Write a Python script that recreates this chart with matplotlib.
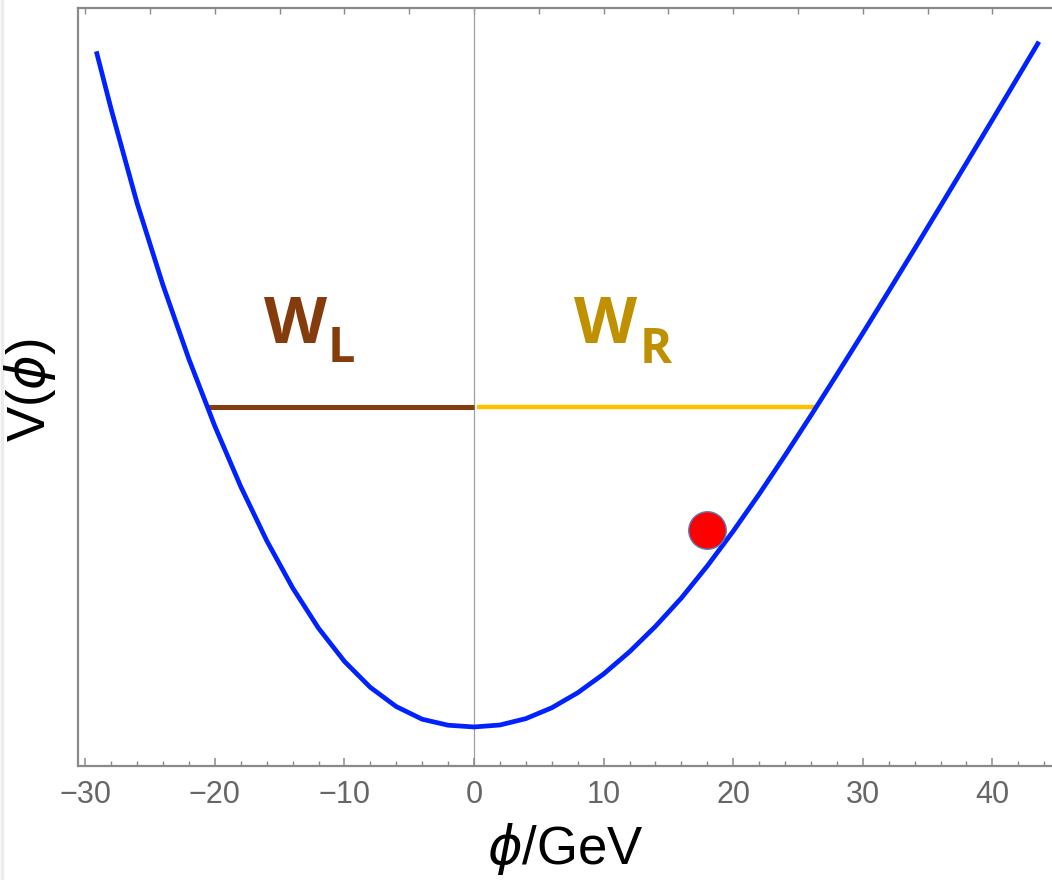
import matplotlib.pyplot as plt
from matplotlib.lines import Line2D

# potential curve, sampled points (phi in GeV, V in arbitrary units)
phi = [-29.1, -28, -26, -24, -22, -20, -18, -16, -14, -12, -10, -8, -6, -4, -2, 0,
       2, 4, 6, 8, 10, 12, 14, 16, 18, 20, 22, 24, 26, 28, 30, 32, 34, 36, 38,
       40, 42, 43.5]
V = [93.98, 86.65, 74.25, 63.43, 53.67, 44.83, 36.86, 29.74, 23.51, 18.18,
     13.80, 10.37, 7.84, 6.17, 5.38, 5.15,
     5.41, 6.25, 7.68, 9.66, 12.14, 15.07, 18.42, 22.16, 26.39, 30.98, 35.86,
     40.98, 46.25, 51.64, 57.10, 62.64, 68.23, 73.88, 79.55, 85.25, 90.98, 95.29]

# widths of the well at the level V_w
V_w = 47.36
wL = (-20.57, 0.0)
wR = (0.25, 26.41)

# ball position
ball = (18.0, 31.1)

brown = '#843C0C'
gold_text = '#BF9000'
gold_line = '#FFC000'
frame = '#8a8a8a'

fig = plt.figure(figsize=(10.52, 8.8), dpi=100)
ax = fig.add_axes([78 / 1052, 114 / 880, 1 - 78 / 1052, 758 / 880])

ax.axvline(0, color='#a0a0a0', lw=0.9, zorder=1)
ax.plot(wL, [V_w, V_w], color=brown, lw=3.6, solid_capstyle='butt', zorder=2)
ax.plot(wR, [V_w, V_w], color=gold_line, lw=3.2, solid_capstyle='butt', zorder=2)
ax.plot(phi, V, color='#0022ff', lw=3.4, solid_joinstyle='round', zorder=3)
ax.plot(*ball, 'o', ms=27, mfc='#ff0000', mec='#5b7bbf', mew=1.0, zorder=4)

# W_L and W_R labels
txt = dict(family='Open Sans', weight='bold', va='baseline', ha='left')
ax.text(-16.2, 55.8, 'W', color=brown, fontsize=47, **txt)
ax.text(-11.3, 53.3, 'L', color=brown, fontsize=35, **txt)
ax.text(7.7, 55.8, 'W', color=gold_text, fontsize=47, **txt)
ax.text(12.8, 53.2, 'R', color=gold_text, fontsize=35, **txt)

ax.set_xlim(-30.56, 44.6)
ax.set_ylim(0, 100)

for side in ['left', 'bottom', 'top']:
    ax.spines[side].set_color(frame)
    ax.spines[side].set_linewidth(1.6)
ax.spines['right'].set_visible(False)

ax.set_xticks([-30, -20, -10, 0, 10, 20, 30, 40])
ax.set_xticks([t for t in range(-30, 45, 2) if t % 10 != 0], minor=True)
ax.set_yticks([])
ax.tick_params(axis='x', which='major', direction='in', length=6, width=1.1,
               color=frame, labelsize=22, labelcolor='#666666', pad=10)
ax.tick_params(axis='x', which='minor', direction='in', length=3.5, width=1.0,
               color=frame)
for lbl in ax.get_xticklabels():
    lbl.set_family('Liberation Sans')

# ticks on the top edge every 5 GeV
top = ax.secondary_xaxis('top')
top.set_xticks(list(range(-30, 45, 5)))
top.tick_params(direction='in', length=4, width=1.0, color=frame, labeltop=False)
top.spines['top'].set_visible(False)

fig.text(30 / 1052, 1 - 390 / 880, r'V($\phi$)', rotation=90, ha='center',
         va='center', fontsize=38, family='Liberation Sans')
fig.text(565 / 1052, 1 - 864 / 880, r'$\phi$/GeV', ha='center', va='baseline',
         fontsize=38, family='Liberation Sans')

fig.add_artist(Line2D([0.0015, 0.0015], [0, 1], color='#ececec', lw=2.5,
                      transform=fig.transFigure))

fig.savefig('out.png', dpi=100)
